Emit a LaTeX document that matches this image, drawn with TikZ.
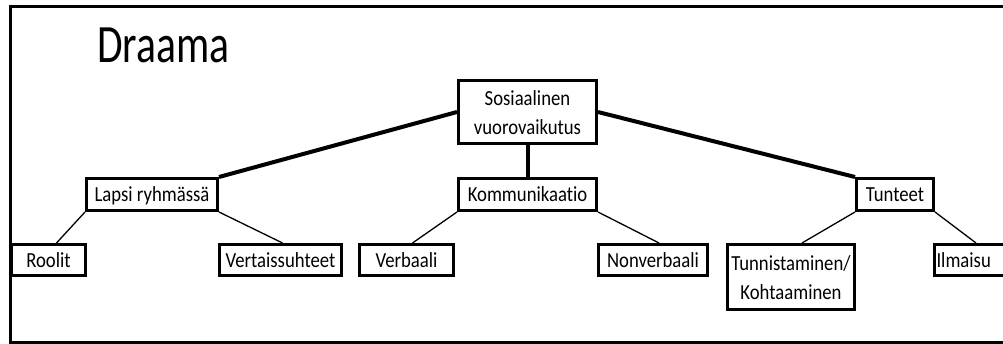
\documentclass[tikz,border=0pt]{standalone}
\usepackage{fontspec}
\setmainfont{Carlito}[Ligatures=CommonOff]
\newfontfamily\boxfont{Carlito}[FakeStretch=0.87,Ligatures=CommonOff]
\newfontfamily\titlefont{Carlito}[FakeStretch=0.77,Ligatures=CommonOff]
\usetikzlibrary{calc}
\tikzset{
  box/.style={draw=black, line width=3pt, rectangle, inner sep=0pt, align=center,
    font=\boxfont\fontsize{21.5}{29.5}\selectfont, text height=16pt, text depth=1pt},
  box2/.style={draw=black, line width=3pt, rectangle, inner sep=0pt, align=center,
    font=\boxfont\fontsize{21.5}{29.5}\selectfont},
  thick link/.style={line width=4pt},
  thin link/.style={line width=1.3pt}
}
\begin{document}
\begin{tikzpicture}[x=1pt,y=-1pt]
\useasboundingbox (0,0) rectangle (1003,344);
% frame
\draw[line width=3pt] (1012,6.5) -- (10,6.5) -- (10,342.5) -- (1012,342.5);
% title
\node[anchor=base west, inner sep=0pt, font=\titlefont\fontsize{54}{60}\selectfont] (title) at (97,63) {Draama};
% nodes
\node[box2, minimum width=138pt, minimum height=63pt, text height=52pt, text depth=6pt] (sos) at (527.5,112) {Sosiaalinen\\vuorovaikutus};
\node[box, minimum width=138pt, minimum height=32pt] (kom) at (527.5,194.5) {Kommunikaatio};
\node[box, minimum width=131pt, minimum height=32pt] (lap) at (152,194.5) {Lapsi ryhmässä};
\node[box, minimum width=77pt, minimum height=32pt] (tun) at (895,194.5) {Tunteet};
\node[box, minimum width=74pt, minimum height=31pt] (roo) at (48.5,260) {Roolit};
\node[box, minimum width=122pt, minimum height=31pt] (ver) at (280.5,260) {Vertaissuhteet};
\node[box, minimum width=94pt, minimum height=31pt] (verb) at (406.5,260) {Verbaali};
\node[box, minimum width=109pt, minimum height=31pt] (non) at (653,260) {Nonverbaali};
\node[box2, minimum width=127pt, minimum height=65pt, text height=52pt, text depth=6pt] (tunn) at (791,277) {Tunnistaminen/\\Kohtaaminen};
\node[box, minimum width=74pt, minimum height=31pt, text width=70pt, align=left] (ilm) at (971.5,260) {Ilmaisu};
% thick connectors
\draw[thick link] (sos.west) -- (lap.north east);
\draw[thick link] (sos.east) -- (tun.north west);
\draw[thick link] (sos.south) -- (kom.north);
% thin connectors
\draw[thin link] (lap.south west) -- ($(roo.north)+(8,0)$);
\draw[thin link] (lap.south east) -- ($(ver.north)+(2,0)$);
\draw[thin link] (kom.south west) -- ($(verb.north)+(6,0)$);
\draw[thin link] (kom.south east) -- ($(non.north)+(6,0)$);
\draw[thin link] (tun.south west) -- ($(tunn.north)+(11,0)$);
\draw[thin link] (tun.south east) -- ($(ilm.north)+(4.5,0)$);
\end{tikzpicture}
\end{document}
